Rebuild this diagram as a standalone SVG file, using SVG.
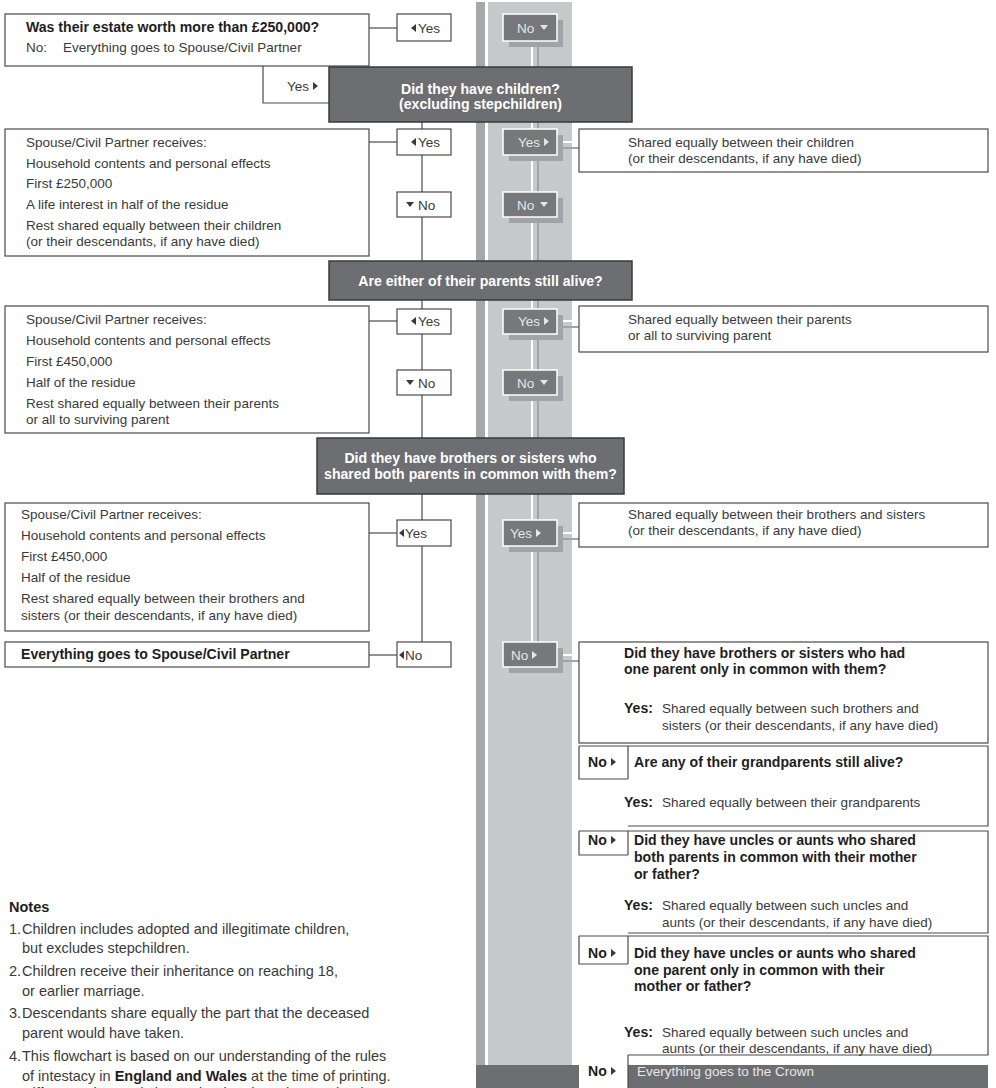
<svg xmlns="http://www.w3.org/2000/svg" xmlns:xlink="http://www.w3.org/1999/xlink" width="996" height="1088" viewBox="0 0 996 1088">
<style>
.t{font-family:"Liberation Sans",Arial,Helvetica,sans-serif;font-size:13.5px;fill:#3a3a3a}
.b{font-weight:bold;fill:#1e1e1e;font-size:14.1px}
.qt{font-weight:bold;fill:#ffffff;text-anchor:middle;font-size:14.1px}
.gt{fill:#e6e6e6}
.nt{font-size:14.5px}
.box{fill:#ffffff;stroke:#4a4a4a;stroke-width:1.2}
.q{fill:#6d6e71;stroke:#3a3a3a;stroke-width:1.5}
.g{fill:#77787b;stroke:#ffffff;stroke-width:1.5}
.gs{fill:#a2a3a6}
.ln{stroke:#4a4a4a;stroke-width:1.2;fill:none}
.wl{stroke:#ffffff;stroke-width:2;fill:none}
.sl{stroke:#a2a3a6;stroke-width:2;fill:none}
.tri{fill:#3a3a3a}
.gtri{fill:#e6e6e6}
</style>
<defs>
<polygon id="tr" points="0,-4 5,0 0,4"/>
<polygon id="tl" points="5,-4 0,0 5,4"/>
<polygon id="td" points="-4,-2 4,-2 0,3"/>
</defs>

<g id="background">
<rect x="476" y="2" width="9" height="1063" fill="#a6a8ab"/>
<rect x="488" y="2" width="84" height="1063" fill="#c7c8ca"/>
<rect x="476" y="1065" width="512" height="23" fill="#6d6e71"/>
</g>

<g id="connectors">
<path class="ln" d="M369,28 H397"/>
<path class="ln" d="M263,66 V103 H329"/>
<path class="ln" d="M422,122 V129 M422,155 V192 M422,217 V261"/>
<path class="ln" d="M369,142 H397"/>
<path class="ln" d="M422,300 V309 M422,334 V370 M422,395 V438"/>
<path class="ln" d="M369,321 H397"/>
<path class="ln" d="M422,494 V520 M422,546 V642"/>
<path class="ln" d="M369,533 H397"/>
<path class="ln" d="M369,655 H397"/>
<path class="sl" d="M538,47 V642"/>
<path class="wl" d="M532,41 V642"/>
<path class="sl" d="M563,148 H579 M563,327 H579 M563,539 H579 M563,661 H579"/>
<path class="wl" d="M557,142 H579 M557,321 H579 M557,533 H579 M557,655 H579"/>
</g>

<g id="n-estate">
<rect class="box" x="5" y="14" width="364" height="52"/>
<text class="t b" x="26" y="32">Was their estate worth more than £250,000?</text>
<text class="t" x="26" y="52">No:</text>
<text class="t" x="63" y="52">Everything goes to Spouse/Civil Partner</text>
</g>
<g id="n-yes-top">
<rect class="box" x="397" y="14" width="54" height="27"/>
<use href="#tl" class="tri" x="411" y="28"/>
<text class="t" x="418" y="33">Yes</text>
</g>
<g id="n-yes-tab">
<text class="t" x="287" y="91">Yes</text>
<use href="#tr" class="tri" x="313" y="86"/>
</g>

<g id="n-children">
<rect class="q" x="329" y="67" width="303" height="55"/>
<text class="t qt" x="480.5" y="94">Did they have children?</text>
<text class="t qt" x="480.5" y="109">(excluding stepchildren)</text>
</g>

<g id="n-spouse-children">
<rect class="box" x="5" y="129" width="364" height="127"/>
<text class="t" x="26" y="147">Spouse/Civil Partner receives:</text>
<text class="t" x="26" y="168">Household contents and personal effects</text>
<text class="t" x="26" y="188">First £250,000</text>
<text class="t" x="26" y="209">A life interest in half of the residue</text>
<text class="t" x="26" y="230">Rest shared equally between their children</text>
<text class="t" x="26" y="246">(or their descendants, if any have died)</text>
</g>
<g id="n-yes-b">
<rect class="box" x="397" y="129" width="54" height="26"/>
<use href="#tl" class="tri" x="411" y="142"/>
<text class="t" x="418" y="147">Yes</text>
</g>
<g id="n-no-b">
<rect class="box" x="397" y="192" width="54" height="25"/>
<use href="#td" class="tri" x="410" y="204"/>
<text class="t" x="418" y="209.5">No</text>
</g>

<g id="n-parents">
<rect class="q" x="329" y="261" width="303" height="39"/>
<text class="t qt" x="480.5" y="286">Are either of their parents still alive?</text>
</g>

<g id="n-spouse-parents">
<rect class="box" x="5" y="306" width="364" height="127"/>
<text class="t" x="26" y="324">Spouse/Civil Partner receives:</text>
<text class="t" x="26" y="345">Household contents and personal effects</text>
<text class="t" x="26" y="366">First £450,000</text>
<text class="t" x="26" y="387">Half of the residue</text>
<text class="t" x="26" y="408">Rest shared equally between their parents</text>
<text class="t" x="26" y="424">or all to surviving parent</text>
</g>
<g id="n-yes-c">
<rect class="box" x="397" y="309" width="54" height="25"/>
<use href="#tl" class="tri" x="411" y="321"/>
<text class="t" x="418" y="326">Yes</text>
</g>
<g id="n-no-c">
<rect class="box" x="397" y="370" width="54" height="25"/>
<use href="#td" class="tri" x="410" y="382"/>
<text class="t" x="418" y="387.5">No</text>
</g>

<g id="n-siblings">
<rect class="q" x="317" y="438" width="307" height="56"/>
<text class="t qt" x="470.5" y="463">Did they have brothers or sisters who</text>
<text class="t qt" x="470.5" y="479">shared both parents in common with them?</text>
</g>

<g id="n-spouse-siblings">
<rect class="box" x="5" y="503" width="364" height="128"/>
<text class="t" x="21" y="519">Spouse/Civil Partner receives:</text>
<text class="t" x="21" y="540">Household contents and personal effects</text>
<text class="t" x="21" y="561">First £450,000</text>
<text class="t" x="21" y="582">Half of the residue</text>
<text class="t" x="21" y="603">Rest shared equally between their brothers and</text>
<text class="t" x="21" y="620">sisters (or their descendants, if any have died)</text>
</g>
<g id="n-yes-d">
<rect class="box" x="397" y="520" width="54" height="26"/>
<use href="#tl" class="tri" x="399" y="533"/>
<text class="t" x="405" y="538">Yes</text>
</g>
<g id="n-spouse-all">
<rect class="box" x="5" y="642" width="364" height="25"/>
<text class="t b" x="21" y="659">Everything goes to Spouse/Civil Partner</text>
</g>
<g id="n-no-d">
<rect class="box" x="397" y="642" width="54" height="25"/>
<use href="#tl" class="tri" x="399" y="655"/>
<text class="t" x="405" y="659.5">No</text>
</g>

<g id="gray-nodes">
<g id="g-no1"><rect class="gs" x="509" y="20" width="54" height="27"/><rect class="g" x="503" y="14" width="54" height="27"/><text class="t gt" x="517" y="33">No</text><use href="#td" class="gtri" x="544" y="27"/></g>
<g id="g-yes1"><rect class="gs" x="509" y="135" width="54" height="26"/><rect class="g" x="503" y="129" width="54" height="26"/><text class="t gt" x="518" y="147">Yes</text><use href="#tr" class="gtri" x="544" y="142"/></g>
<g id="g-no2"><rect class="gs" x="509" y="198" width="54" height="25"/><rect class="g" x="503" y="192" width="54" height="25"/><text class="t gt" x="517" y="209.5">No</text><use href="#td" class="gtri" x="544" y="204"/></g>
<g id="g-yes2"><rect class="gs" x="509" y="315" width="54" height="25"/><rect class="g" x="503" y="309" width="54" height="25"/><text class="t gt" x="518" y="326">Yes</text><use href="#tr" class="gtri" x="544" y="321"/></g>
<g id="g-no3"><rect class="gs" x="509" y="376" width="54" height="25"/><rect class="g" x="503" y="370" width="54" height="25"/><text class="t gt" x="517" y="387.5">No</text><use href="#td" class="gtri" x="544" y="382"/></g>
<g id="g-yes3"><rect class="gs" x="509" y="526" width="54" height="26"/><rect class="g" x="503" y="520" width="54" height="26"/><text class="t gt" x="510" y="538">Yes</text><use href="#tr" class="gtri" x="536" y="533"/></g>
<g id="g-no4"><rect class="gs" x="509" y="648" width="54" height="25"/><rect class="g" x="503" y="642" width="54" height="25"/><text class="t gt" x="511" y="659.5">No</text><use href="#tr" class="gtri" x="532" y="655"/></g>
</g>

<g id="n-r-children">
<rect class="box" x="579" y="129" width="409" height="43"/>
<text class="t" x="628" y="147">Shared equally between their children</text>
<text class="t" x="628" y="163">(or their descendants, if any have died)</text>
</g>
<g id="n-r-parents">
<rect class="box" x="579" y="306" width="409" height="46"/>
<text class="t" x="628" y="324">Shared equally between their parents</text>
<text class="t" x="628" y="340">or all to surviving parent</text>
</g>
<g id="n-r-siblings">
<rect class="box" x="579" y="503" width="409" height="44"/>
<text class="t" x="628" y="519">Shared equally between their brothers and sisters</text>
<text class="t" x="628" y="535">(or their descendants, if any have died)</text>
</g>

<g id="n-r-half">
<rect class="box" x="579" y="642" width="409" height="101"/>
<text class="t b" x="624" y="658">Did they have brothers or sisters who had</text>
<text class="t b" x="624" y="674">one parent only in common with them?</text>
<text class="t b" x="624" y="713">Yes:</text>
<text class="t" x="662" y="713">Shared equally between such brothers and</text>
<text class="t" x="662" y="730">sisters (or their descendants, if any have died)</text>
</g>

<g id="n-grandparents">
<path class="ln" d="M579,746 H988 V826 H628 M579,746 V779 H628 M628,746 V779"/>
<text class="t b" x="588" y="767">No</text>
<use href="#tr" class="tri" x="611" y="762"/>
<text class="t b" x="634" y="767">Are any of their grandparents still alive?</text>
<text class="t b" x="624" y="807">Yes:</text>
<text class="t" x="662" y="807">Shared equally between their grandparents</text>
</g>

<g id="n-uncles-full">
<path class="ln" d="M579,831 H988 V933 H628 M579,831 V855 H628 M628,831 V855"/>
<text class="t b" x="588" y="845">No</text>
<use href="#tr" class="tri" x="611" y="840"/>
<text class="t b" x="634" y="845">Did they have uncles or aunts who shared</text>
<text class="t b" x="634" y="862">both parents in common with their mother</text>
<text class="t b" x="634" y="879">or father?</text>
<text class="t b" x="624" y="910">Yes:</text>
<text class="t" x="662" y="910">Shared equally between such uncles and</text>
<text class="t" x="662" y="927">aunts (or their descendants, if any have died)</text>
</g>

<g id="n-uncles-half">
<path class="ln" d="M579,936 H988 V1055 H628 M579,936 V964 H628 M628,936 V964"/>
<text class="t b" x="588" y="958">No</text>
<use href="#tr" class="tri" x="611" y="953"/>
<text class="t b" x="634" y="958">Did they have uncles or aunts who shared</text>
<text class="t b" x="634" y="975">one parent only in common with their</text>
<text class="t b" x="634" y="991">mother or father?</text>
<text class="t b" x="624" y="1037">Yes:</text>
<text class="t" x="662" y="1037">Shared equally between such uncles and</text>
<text class="t" x="662" y="1053">aunts (or their descendants, if any have died)</text>
</g>

<g id="n-crown">
<rect x="579" y="1055" width="49" height="33" fill="#ffffff"/>
<path class="ln" d="M628,1055 V1088"/>
<text class="t b" x="588" y="1076">No</text>
<use href="#tr" class="tri" x="611" y="1071"/>
<text class="t gt" x="637" y="1076">Everything goes to the Crown</text>
</g>

<g id="notes">
<text class="t b nt" x="9" y="912">Notes</text>
<text class="t nt" x="9" y="934">1.</text><text class="t nt" x="22" y="934">Children includes adopted and illegitimate children,</text>
<text class="t nt" x="22" y="953">but excludes stepchildren.</text>
<text class="t nt" x="9" y="976">2.</text><text class="t nt" x="22" y="976">Children receive their inheritance on reaching 18,</text>
<text class="t nt" x="22" y="996">or earlier marriage.</text>
<text class="t nt" x="9" y="1018">3.</text><text class="t nt" x="22" y="1018">Descendants share equally the part that the deceased</text>
<text class="t nt" x="22" y="1038">parent would have taken.</text>
<text class="t nt" x="9" y="1061">4.</text><text class="t nt" x="22" y="1061">This flowchart is based on our understanding of the rules</text>
<text class="t nt" x="22" y="1081">of intestacy in <tspan class="b nt">England and Wales</tspan> at the time of printing.</text>
<text class="t nt" x="22" y="1098">Different rules apply in Scotland and Northern Ireland.</text>
</g>
</svg>
